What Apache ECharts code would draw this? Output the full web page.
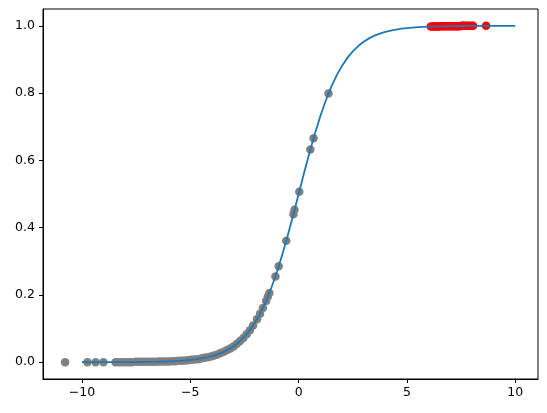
<!DOCTYPE html>
<html>
<head>
<meta charset="utf-8">
<script src="https://cdn.jsdelivr.net/npm/echarts@6/dist/echarts.min.js"></script>
<style>html,body{margin:0;padding:0;background:#fff;}#chart{width:547px;height:413px;}</style>
</head>
<body>
<div id="chart"></div>
<script>
// Curve (logistic-shaped line)
var curveX = [-10,-9.5,-9,-8.5,-8,-7.5,-7,-6.5,-6,-5.75,-5.5,-5.25,-5,-4.75,-4.5,-4.25,-4,-3.75,-3.5,-3.25,-3,-2.75,-2.5,-2.25,-2,-1.75,-1.5,-1.25,-1,-0.75,-0.5,-0.25,0,0.25,0.5,0.75,1,1.25,1.5,1.75,2,2.25,2.5,2.75,3,3.25,3.5,3.75,4,4.25,4.5,4.75,5,5.25,5.5,5.75,6,6.5,7,7.5,8,8.5,9,9.5,10];
var curveY = [0.00005,0.00007,0.00012,0.0002,0.00034,0.00055,0.0009,0.0015,0.0025,0.0032,0.0041,0.0052,0.0067,0.0086,0.011,0.014,0.018,0.023,0.0293,0.0373,0.0474,0.0601,0.0759,0.0953,0.1192,0.148,0.1824,0.2227,0.2689,0.3208,0.3775,0.4378,0.5,0.5622,0.6225,0.6792,0.7311,0.7773,0.8176,0.852,0.8808,0.9047,0.9241,0.9399,0.9526,0.9627,0.9707,0.977,0.982,0.986,0.989,0.9914,0.9933,0.9948,0.9959,0.9968,0.9975,0.9985,0.9991,0.99945,0.99966,0.9998,0.99988,0.99993,0.99995];

// Gray points
var grayX = [-10.78,-9.75,-9.37,-9.01,-8.45,-8.3,-8.15,-8.0,-7.85,-7.7,-7.5,-7.35,-7.2,-7.05,-6.9,-6.75,-6.6,-6.45,-6.3,-6.15,-6.0,-5.85,-5.7,-5.55,-5.4,-5.25,-5.1,-4.95,-4.8,-4.65,-4.5,-4.35,-4.2,-4.05,-3.9,-3.75,-3.6,-3.45,-3.3,-3.15,-3.0,-2.85,-2.7,-2.55,-2.4,-2.25,-2.1,-1.92,-1.78,-1.65,-1.5,-1.42,-1.35,-1.07,-0.92,-0.57,-0.24,-0.19,0.03,0.54,0.69,1.38];
var grayY = [0.0,0.0,0.0,0.0,0.0,0.0,0.0,0.0,0.0,0.0,0.001,0.001,0.001,0.001,0.001,0.001,0.001,0.002,0.002,0.002,0.002,0.003,0.003,0.004,0.004,0.005,0.006,0.007,0.008,0.009,0.011,0.013,0.015,0.017,0.02,0.023,0.027,0.031,0.036,0.041,0.047,0.055,0.063,0.072,0.083,0.095,0.109,0.128,0.144,0.161,0.182,0.195,0.206,0.255,0.285,0.361,0.44,0.453,0.507,0.632,0.666,0.799];

// Red points
var redX = [6.1,6.18,6.25,6.33,6.4,6.48,6.55,6.62,6.7,6.78,6.85,6.92,7.0,7.08,7.15,7.22,7.3,7.38,7.45,7.52,7.6,7.68,7.75,7.85,7.95,8.05,8.65];
var redY = [0.998,0.998,0.998,0.998,0.998,0.998,0.999,0.999,0.999,0.999,0.999,0.999,0.999,0.999,0.999,0.999,0.999,0.999,0.999,1.0,1.0,1.0,1.0,1.0,1.0,1.0,1.0];

var xTicks = [-10,-5,0,5,10];
var yTicks = [0,0.2,0.4,0.6,0.8,1.0];

function zip(a,b){return a.map(function(v,i){return [v,b[i]];});}
var font = 'DejaVu Sans';
var chart = echarts.init(document.getElementById('chart'), null, {renderer:'canvas'});
chart.setOption({
  animation:false,
  backgroundColor:'#fff',
  grid:{left:43,right:9,top:9,bottom:34,show:true,borderColor:'#000',borderWidth:1,backgroundColor:'transparent'},
  xAxis:{type:'value',min:-11.8,max:11.05,
    axisLine:{show:true,onZero:false,lineStyle:{color:'#000',width:1}},
    axisTick:{show:true,length:4,customValues:xTicks,lineStyle:{color:'#000'}},
    axisLabel:{customValues:xTicks,margin:7,color:'#000',fontFamily:font,fontSize:12.5,
      formatter:function(v){return v<0?'\u2212'+Math.abs(v):String(v);}},
    splitLine:{show:false}},
  yAxis:{type:'value',min:-0.05,max:1.05,
    axisLine:{show:true,onZero:false,lineStyle:{color:'#000',width:1}},
    axisTick:{show:true,length:4,customValues:yTicks,lineStyle:{color:'#000'}},
    axisLabel:{customValues:yTicks,margin:8,color:'#000',fontFamily:font,fontSize:12.5,
      formatter:function(v){return v.toFixed(1);}},
    splitLine:{show:false}},
  series:[
    {type:'scatter',data:zip(grayX,grayY),symbolSize:8.5,itemStyle:{color:'#808080',opacity:1},z:2},
    {type:'scatter',data:zip(redX,redY),symbolSize:8.5,itemStyle:{color:'#ff0000',opacity:1},z:2},
    {type:'line',data:zip(curveX,curveY),showSymbol:false,smooth:false,lineStyle:{color:'#1f77b4',width:1.8},z:3}
  ]
});
</script>
</body>
</html>
